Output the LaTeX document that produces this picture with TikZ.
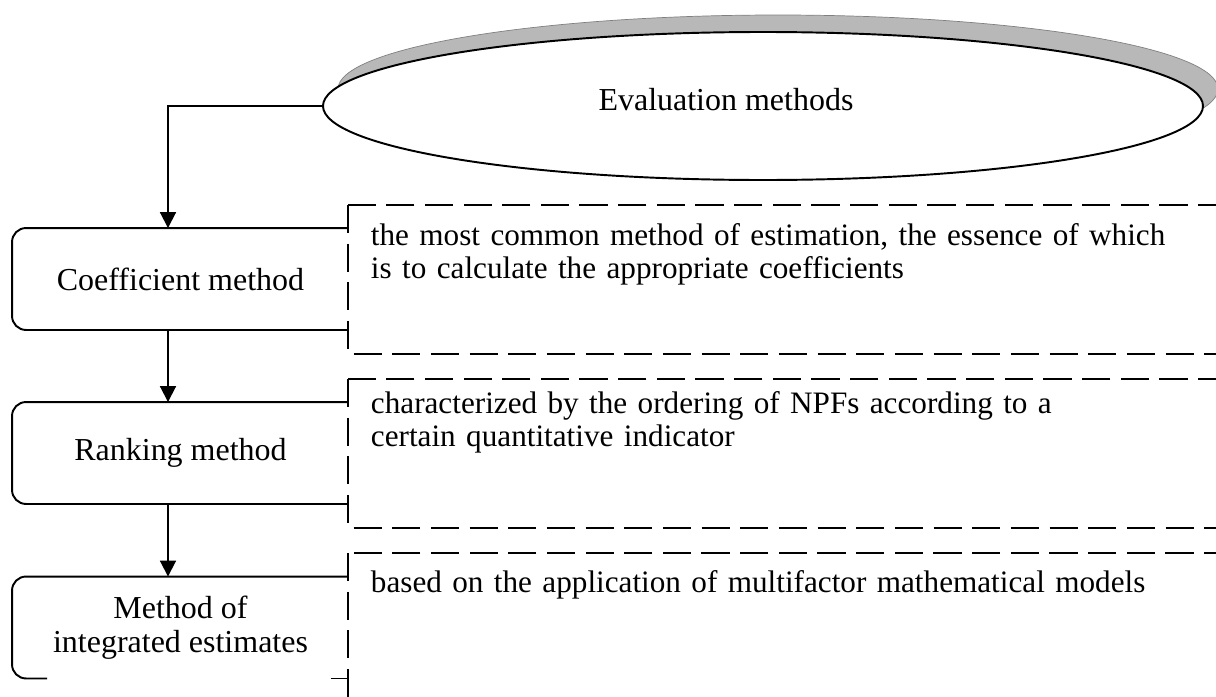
\documentclass[tikz,border=0pt]{standalone}
\usepackage{fontspec}
\setmainfont{Liberation Serif}
\usetikzlibrary{shapes.geometric,arrows.meta,calc}

\begin{document}
\begin{tikzpicture}[
    font=\fontsize{18.2pt}{19.2pt}\selectfont,
    line width=1.1pt,
    methodbox/.style={minimum width=6.7cm, minimum height=2cm, inner sep=0pt, align=center},
    noteframe/.style={dash pattern=on 16pt off 6pt},
    notetext/.style={anchor=base west, text width=16.5cm, align=left, inner sep=0pt,
                     font=\fontsize{17.75pt}{19.2pt}\selectfont},
    flow/.style={-{Triangle[length=9pt,width=9pt]}},
    outline/.style={rounded corners=0.28cm}
]
    \useasboundingbox (0,0) rectangle (24.32,-13.94);

    % Ellipse with its shadow
    \fill[black!28, draw=black!50, line width=0.4pt] (15.56,-1.78) ellipse [x radius=8.8cm, y radius=1.48cm];
    \node[ellipse, draw, fill=white, minimum width=17.6cm, minimum height=2.96cm,
          label={[xshift=-0.74cm, yshift=0.13cm]center:Evaluation methods}] (eval) at (15.26,-2.12) {};

    % Method boxes
    \node[methodbox] (coef) at (3.61,-5.58) {Coefficient method};
    \node[methodbox] (rank) at (3.61,-9.06) {Ranking method};
    \node[methodbox] (integ) at (3.61,-12.55) {Method of\\integrated estimates};

    % Box outlines, open on the right
    \foreach \b in {coef,rank}
        \draw[outline] (\b.north east) -- (\b.north west) -- (\b.south west) -- (\b.south east);
    \draw[outline] ($(integ.south west)+(0.7,0)$) -- (integ.south west) -- (integ.north west) -- (integ.north east);
    \draw ($(integ.south east)+(-0.36,0)$) -- (integ.south east);

    % Dashed frames
    \draw[noteframe] (6.96,-4.10) rectangle (24.36,-7.08);
    \draw[noteframe] (6.96,-7.58) rectangle (24.36,-10.56);
    \draw[noteframe] (6.96,-11.06) rectangle (24.36,-14.10);

    % Descriptions
    \node[notetext] (coefnote) at (7.4,-4.9) {the most common method of estimation, the essence of which\\is to calculate the appropriate coefficients};
    \node[notetext] (ranknote) at (7.4,-8.26) {characterized by the ordering of NPFs according to a\\certain quantitative indicator};
    \node[notetext] (integnote) at (7.4,-11.84) {based on the application of multifactor mathematical models};

    % Arrows
    \coordinate (spine) at (3.36,0);
    \draw[flow] (eval.west) -| (spine |- coef.north);
    \draw[flow] (spine |- coef.south) -- (spine |- rank.north);
    \draw[flow] (spine |- rank.south) -- (spine |- integ.north);
\end{tikzpicture}
\end{document}
